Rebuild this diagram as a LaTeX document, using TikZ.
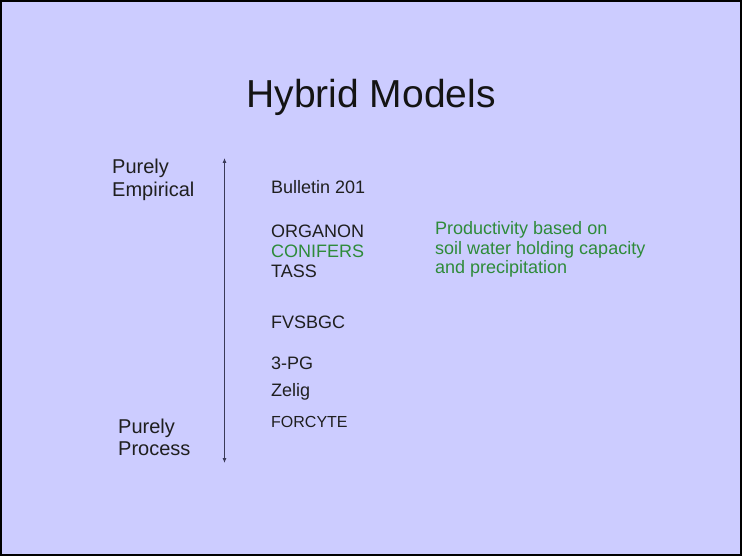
\documentclass[tikz,border=0pt]{standalone}
\usepackage{fontspec}
\setmainfont{Liberation Sans}
\usepackage{xcolor}
\usepackage{tikz}
\usetikzlibrary{arrows.meta,positioning}

\definecolor{slidebg}{HTML}{CCCCFF}
\definecolor{slidegreen}{HTML}{2E8B3A}
\definecolor{axisgray}{HTML}{3A3A58}

\begin{document}
\begin{tikzpicture}[
    x=1pt, y=-1pt,
    title/.style={font=\fontsize{39}{44}\selectfont, text=black!92, inner sep=0pt, anchor=base},
    label/.style={font=\fontsize{20}{24}\selectfont, text=black!88, inner sep=0pt, anchor=base west},
    model/.style={font=\fontsize{18}{21}\selectfont, text=black!88, inner sep=0pt, anchor=base west},
    note/.style={font=\fontsize{18}{21}\selectfont, text=slidegreen, inner sep=0pt, anchor=base west},
    axis/.style={{Latex[length=5pt,width=4pt]}-{Latex[length=5pt,width=4pt]}, draw=axisgray, line width=0.8pt}
]
% slide
\fill[slidebg] (0,0) rectangle (742,556);
\draw[line width=1.8pt] (1,1) rectangle (741,555);

\node[title] (ttl) at (371,108) {Hybrid Models};

% scale on the left
\node[label] (emp1) at (112,174) {Purely};
\node[label] (emp2) at (112,197) {Empirical};
\node[label] (pro1) at (118,433) {Purely};
\node[label] (pro2) at (118,455) {Process};
\coordinate (axtop) at (224.5,158);
\coordinate (axbot) at (224.5,463);
\draw[axis] (axtop) -- (axbot);

% models
\node[model] (bul) at (271,193.5) {Bulletin 201};
\node[model] (org) at (271,238) {ORGANON};
\node[model, text=slidegreen] (con) at (271,258) {CONIFERS};
\node[model] (tas) at (271,277) {TASS};
\node[model] (fvs) at (271,328) {FVSBGC};
\node[model] (tpg) at (271,369) {3-PG};
\node[model] (zel) at (271,396) {Zelig};
\node[model, font=\fontsize{16}{19}\selectfont] (frc) at (271,427) {FORCYTE};

% note on CONIFERS
\node[note] (n1) at (435,235) {Productivity based on};
\node[note] (n2) at (435,255) {soil water holding capacity};
\node[note] (n3) at (435,274) {and precipitation};
\end{tikzpicture}
\end{document}
